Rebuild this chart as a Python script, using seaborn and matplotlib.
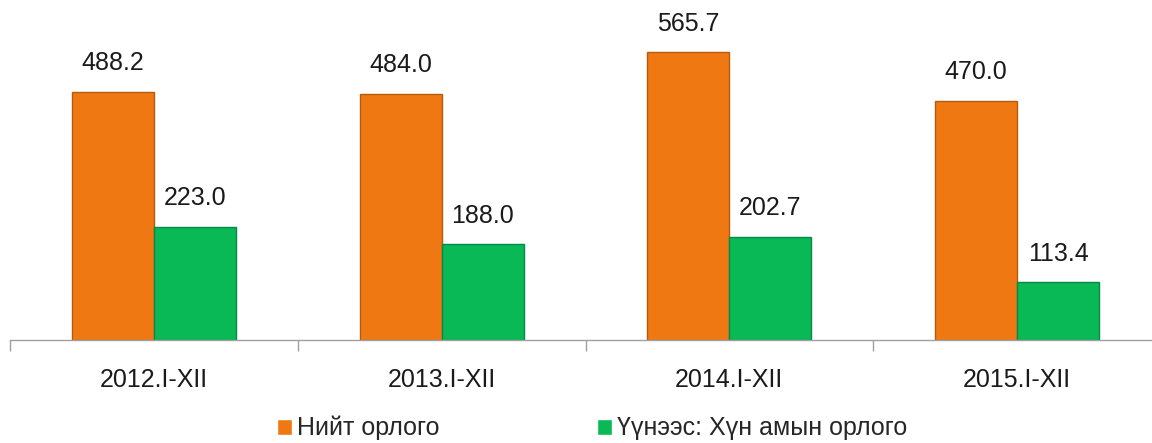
import matplotlib
matplotlib.use("Agg")
import matplotlib.pyplot as plt
import numpy as np
import pandas as pd
import seaborn as sns

# data
periods = ["2012.I-XII", "2013.I-XII", "2014.I-XII", "2015.I-XII"]
total_income = [488.2, 484.0, 565.7, 470.0]
population_income = [223.0, 188.0, 202.7, 113.4]
series_names = ["Нийт орлого", "Үүнээс: Хүн амын орлого"]

df = pd.DataFrame({
    "period": periods * 2,
    "series": [series_names[0]] * 4 + [series_names[1]] * 4,
    "value": total_income + population_income,
})

sns.set_theme(style="white")
plt.rcParams["font.family"] = ["Liberation Sans", "DejaVu Sans"]

fig = plt.figure(figsize=(11.52, 4.43), dpi=100)
ax = fig.add_axes([10 / 1152, 1 - 340 / 443, 1151 / 1152, 340 / 443])

colors = ["#F07813", "#08B955"]
sns.barplot(data=df, x="period", y="value", hue="series", palette=colors,
            width=0.57, gap=0, saturation=1, ax=ax, legend=True)

edges = ["#B85A0C", "#07884A"]
for container, ec in zip(ax.containers, edges):
    for bar in container:
        bar.set_edgecolor(ec)
        bar.set_linewidth(1.0)
    ax.bar_label(container, fmt="%.1f", padding=12, fontsize=18, color="#1a1a1a")

ax.set_ylim(0, 669)
ax.set_xlim(-0.5, 3.5)
ax.set_xlabel("")
ax.set_ylabel("")
ax.set_yticks([])
for side in ["top", "right", "left"]:
    ax.spines[side].set_visible(False)
ax.spines["bottom"].set_color("#A0A0A0")
ax.spines["bottom"].set_linewidth(1.0)

ax.set_xticks(np.arange(len(periods)))
ax.set_xticklabels(periods, fontsize=18, color="#1a1a1a")
ax.tick_params(axis="x", which="major", length=0, pad=20)
ax.set_xticks(np.arange(len(periods) + 1) - 0.5, minor=True)
ax.tick_params(axis="x", which="minor", length=8, color="#A0A0A0", bottom=True)

handles, labels = ax.get_legend_handles_labels()
ax.legend_.remove()
fig.legend(handles, labels, loc="lower center", bbox_to_anchor=(0.514, -0.045),
           ncol=2, frameon=False, fontsize=18, handlelength=0.6, handleheight=0.6,
           handletextpad=0.2, columnspacing=6.3)

fig.savefig("out.png", dpi=100)
